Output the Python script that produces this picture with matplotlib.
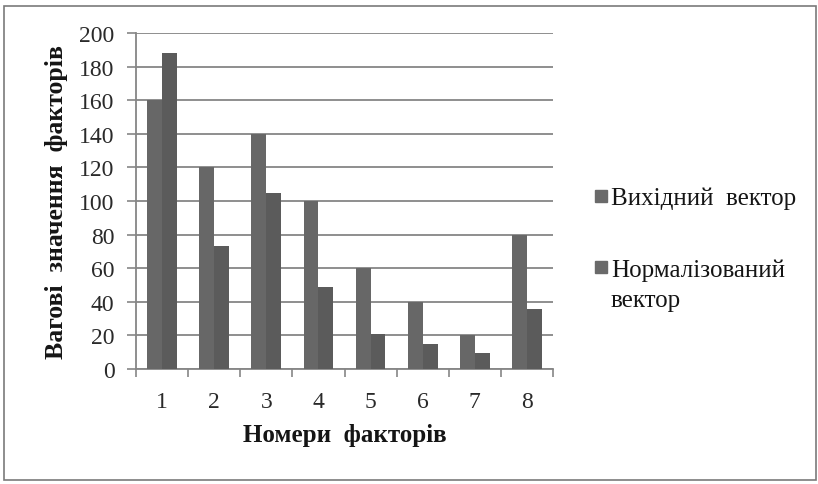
import numpy as np
from matplotlib import pyplot as plt
from matplotlib.patches import Rectangle

factors = ['1', '2', '3', '4', '5', '6', '7', '8']
vykhidnyi = [160, 120, 140, 100, 60, 40, 20, 80]
normalizovanyi = [188, 73, 105, 49, 21, 15, 9.5, 36]
series_names = ['Вихідний  вектор', 'Нормалізований\nвектор']
series_colors = ['#676767', '#5b5b5b']

plt.rcParams['font.family'] = 'serif'
plt.rcParams['font.serif'] = ['Liberation Serif']
GRID = '#868686'
TXT = '#151515'

fig = plt.figure(figsize=(8.18, 4.85), dpi=100)
fig.patches.append(Rectangle((4 / 818, 4 / 485), 812 / 818, 474 / 485,
                             transform=fig.transFigure, fill=False,
                             edgecolor='#7a7a7a', linewidth=1.2))

ax = fig.add_axes([136 / 818, 1 - 370 / 485, 417 / 818, 336 / 485])
x = np.arange(len(factors))
w = 0.285
ax.bar(x - w / 2, vykhidnyi, w, color=series_colors[0], zorder=3)
ax.bar(x + w / 2, normalizovanyi, w, color=series_colors[1], zorder=3)

ax.set_xlim(-0.5, len(factors) - 0.5)
ax.set_ylim(0, 200)
ax.set_yticks(range(0, 201, 20))
ax.yaxis.grid(True, color=GRID, linewidth=1.3, zorder=0)
ax.set_axisbelow(True)

ax.set_xticks(x)
ax.set_xticklabels(factors)
ax.set_xticks(np.arange(-0.5, len(factors)), minor=True)
ax.tick_params(axis='x', which='major', length=0, pad=16, labelsize=17, labelcolor='#2a2a2a')
ax.tick_params(axis='x', which='minor', length=6, width=1.2, color=GRID)
ax.tick_params(axis='y', length=6.5, width=1.2, color=GRID, labelsize=17,
               labelcolor='#2a2a2a', pad=9)

for s in ['top', 'right']:
    ax.spines[s].set_visible(False)
for s in ['left', 'bottom']:
    ax.spines[s].set_color(GRID)
    ax.spines[s].set_linewidth(1.3)

ax.set_xlabel('Номери  факторів', fontsize=18, fontweight='bold', color=TXT, labelpad=8)
ax.set_ylabel('Вагові  значення  факторів', fontsize=18.5, fontweight='bold', color=TXT, labelpad=8)

# legend drawn by hand: marker aligned with first line of each label
leg_y = [197, 268]
for name, col, yy in zip(series_names, series_colors, leg_y):
    fig.patches.append(Rectangle((595 / 818, 1 - (yy + 6) / 485), 12 / 818, 12 / 485,
                                 transform=fig.transFigure, color='#6a6a6a'))
    fig.text(611 / 818, 1 - (yy - 9) / 485, name, fontsize=18, color=TXT,
             va='top', ha='left', linespacing=1.5)

fig.savefig('out.png', dpi=100)
